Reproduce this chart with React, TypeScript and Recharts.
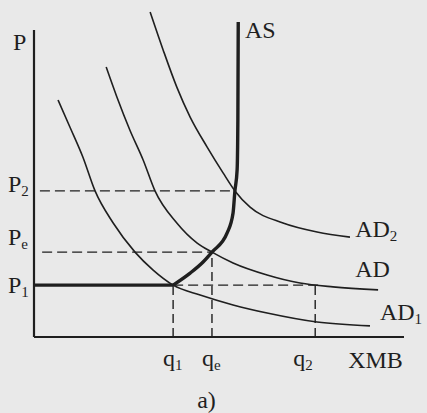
import {LineChart, Line, XAxis, YAxis, ReferenceLine, ReferenceDot} from 'recharts';

// levels (x: output 0..100, y: price 0..110)
const Q1 = 37.6;
const QE = 48.1;
const Q2 = 76;
const P1 = 17.3;
const PE = 28.3;
const P2 = 48.7;

const AS_FLAT = [
  {x: 0, y: P1},
  {x: Q1, y: P1},
];
const AS_CURVE = [
  {x: Q1, y: P1},
  {x: 42.2, y: 21.3},
  {x: 45.7, y: 25},
  {x: QE, y: PE},
  {x: 52.2, y: 34.7},
  {x: 53.8, y: 41.3},
  {x: 54.3, y: P2},
  {x: 54.9, y: 55.7},
  {x: 55.1, y: 72.3},
  {x: 55.2, y: 105},
];
const AD2 = [
  {x: 31.4, y: 108.3},
  {x: 34.9, y: 95.7},
  {x: 38.6, y: 83.3},
  {x: 42.2, y: 73.3},
  {x: 46.8, y: 63.3},
  {x: 51.1, y: 54.7},
  {x: 54.3, y: P2},
  {x: 58.4, y: 43.3},
  {x: 67.3, y: 38},
  {x: 76.5, y: 35},
  {x: 85.4, y: 33.3},
];
const AD = [
  {x: 19.5, y: 90},
  {x: 22.4, y: 80},
  {x: 25.9, y: 69},
  {x: 29.5, y: 59},
  {x: 32.7, y: P2},
  {x: 38.6, y: 38},
  {x: 44.1, y: 31.3},
  {x: QE, y: PE},
  {x: 53.8, y: 24.7},
  {x: 63, y: 20.7},
  {x: 71.9, y: 18},
  {x: 80.8, y: 16.7},
  {x: 93, y: 15.7},
];
const AD1 = [
  {x: 6.5, y: 79},
  {x: 9.7, y: 70},
  {x: 13.2, y: 60},
  {x: 16.5, y: P2},
  {x: 21.4, y: 38},
  {x: 27.3, y: PE},
  {x: 32.2, y: 22.3},
  {x: Q1, y: P1},
  {x: 44.9, y: 14},
  {x: 53.8, y: 10.7},
  {x: 63, y: 8},
  {x: 76.5, y: 5},
  {x: 90.8, y: 3.7},
];

const X_TICKS = [Q1, QE, Q2];
const X_TICK_LABELS = [['q', '1'], ['q', 'e'], ['q', '2']];
const Y_TICKS = [P1, PE, P2];
const Y_TICK_LABELS = [['P', '1'], ['P', 'e'], ['P', '2']];

const CURVE_LABELS = [['P', ''], ['AS', ''], ['AD', '2'], ['AD', ''], ['AD', '1'], ['XMB', ''], ['a)', '']];

// where each label sits (data coords of its baseline start)
const LABEL_POS = [
  {x: -5.7, y: 95.7},
  {x: 57, y: 99.7},
  {x: 86.8, y: 33.3},
  {x: 86.8, y: 20},
  {x: 93.5, y: 5.7},
  {x: 84.9, y: -10.3},
  {x: 44.1, y: -23.7},
];

const INK = '#1f1f1f';
const FONT = '"Liberation Serif", "DejaVu Serif", serif';

function Sub({base, sub, x, y}: {base: string; sub: string; x: number; y: number}) {
  return (
    <text x={x} y={y} fill={INK} fontFamily={FONT} fontSize={24} textAnchor="start">
      <tspan>{base}</tspan>
      {sub && (
        <tspan fontSize={15} dy={4}>
          {sub}
        </tspan>
      )}
    </text>
  );
}

const X_DX = [-10, -10, -22];
const Y_DY = [8, -7, 1];

function XTick(props: any) {
  const {x, y, payload} = props;
  const i = X_TICKS.indexOf(payload.value);
  if (i < 0) return null;
  return <Sub base={X_TICK_LABELS[i][0]} sub={X_TICK_LABELS[i][1]} x={x + X_DX[i]} y={y + 29} />;
}

function YTick(props: any) {
  const {y, payload} = props;
  const i = Y_TICKS.indexOf(payload.value);
  if (i < 0) return null;
  return <Sub base={Y_TICK_LABELS[i][0]} sub={Y_TICK_LABELS[i][1]} x={8} y={y + Y_DY[i]} />;
}

const dashed = {stroke: INK, strokeWidth: 1.4, strokeDasharray: '10 5'};

export default function App() {
  return (
    <div style={{position: 'absolute', left: 0, top: 0, width: 427, height: 413, background: '#e9e9e9'}}>
      <LineChart width={427} height={413} margin={{top: 7, right: 23, bottom: 36, left: 0}}>
        <XAxis
          type="number"
          dataKey="x"
          domain={[0, 100]}
          allowDataOverflow
          ticks={X_TICKS}
          interval={0}
          tickLine={false}
          tickSize={0}
          tickMargin={0}
          height={40}
          axisLine={{stroke: INK, strokeWidth: 2.2}}
          tick={<XTick />}
        />
        <YAxis
          type="number"
          dataKey="y"
          domain={[0, 110]}
          allowDataOverflow
          ticks={Y_TICKS}
          interval={0}
          tickLine={false}
          tickSize={0}
          tickMargin={0}
          width={34}
          axisLine={false}
          tick={<YTick />}
        />
        <ReferenceLine segment={[{x: 0, y: 0}, {x: 0, y: 102.3}]} stroke={INK} strokeWidth={2.2} />

        <ReferenceLine segment={[{x: 1.6, y: P2}, {x: 54.3, y: P2}]} {...dashed} />
        <ReferenceLine segment={[{x: 2.2, y: PE}, {x: QE, y: PE}]} {...dashed} />
        <ReferenceLine segment={[{x: Q1, y: P1}, {x: 77.8, y: P1}]} {...dashed} />
        <ReferenceLine segment={[{x: Q1, y: 0}, {x: Q1, y: P1}]} {...dashed} strokeDasharray="9 5" />
        <ReferenceLine segment={[{x: QE, y: 0}, {x: QE, y: PE}]} {...dashed} strokeDasharray="9 5" />
        <ReferenceLine segment={[{x: Q2, y: 0}, {x: Q2, y: P1}]} {...dashed} strokeDasharray="9 5" />

        <Line data={AD1} dataKey="y" type="monotone" stroke={INK} strokeWidth={1.6} dot={false} activeDot={false} isAnimationActive={false} />
        <Line data={AD} dataKey="y" type="monotone" stroke={INK} strokeWidth={1.6} dot={false} activeDot={false} isAnimationActive={false} />
        <Line data={AD2} dataKey="y" type="monotone" stroke={INK} strokeWidth={1.6} dot={false} activeDot={false} isAnimationActive={false} />
        <Line data={AS_FLAT} dataKey="y" type="linear" stroke={INK} strokeWidth={3.4} dot={false} activeDot={false} isAnimationActive={false} />
        <Line data={AS_CURVE} dataKey="y" type="monotone" stroke={INK} strokeWidth={3.4} dot={false} activeDot={false} isAnimationActive={false} />

        {CURVE_LABELS.map(([base, sub], i) => (
          <ReferenceDot
            key={base + sub}
            x={LABEL_POS[i].x}
            y={LABEL_POS[i].y}
            r={0}
            ifOverflow="visible"
            shape={(p: any) => <Sub base={base} sub={sub} x={p.cx} y={p.cy} />}
          />
        ))}
      </LineChart>
    </div>
  );
}
